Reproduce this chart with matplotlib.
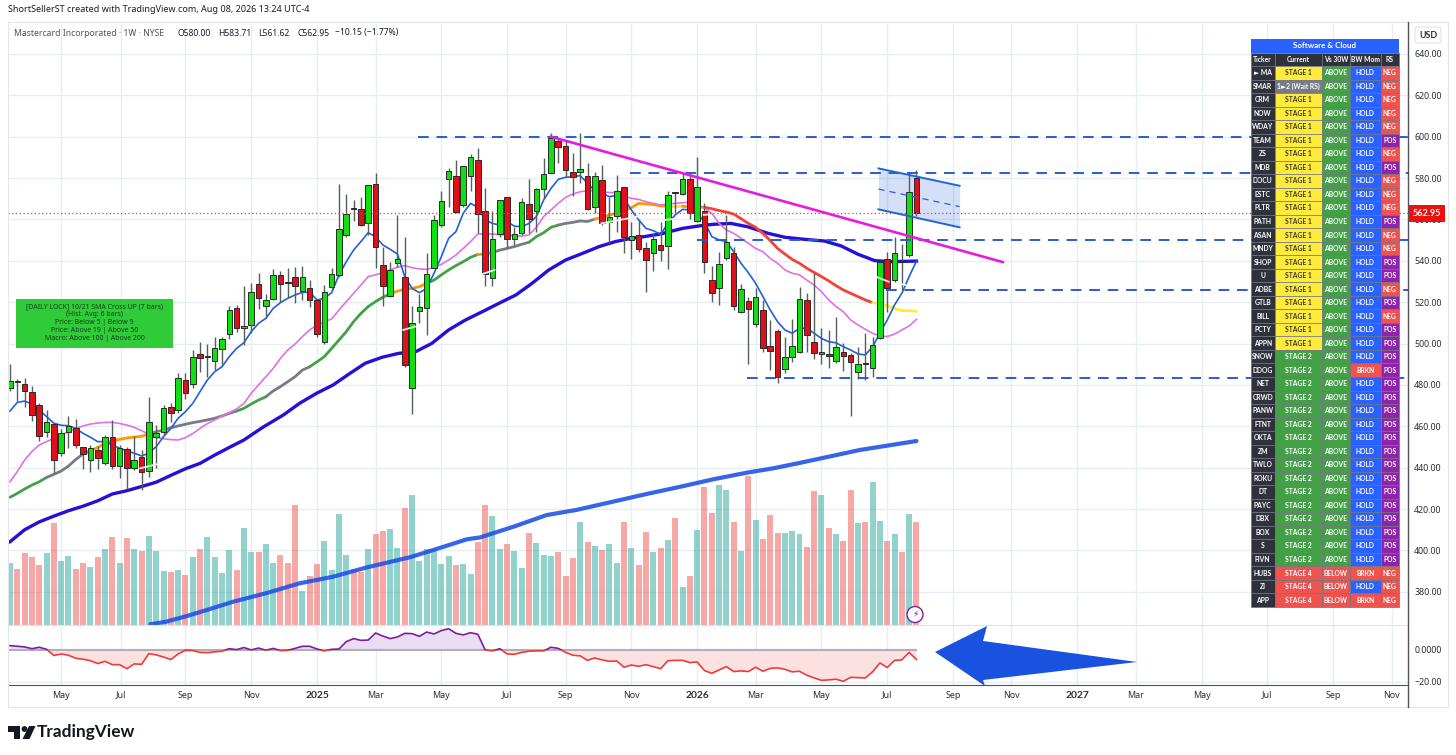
import numpy as np
import matplotlib
matplotlib.use("Agg")
import matplotlib.pyplot as plt
from matplotlib.patches import Rectangle, Polygon, Circle, FancyBboxPatch

plt.rcParams["font.family"] = ["Noto Sans", "DejaVu Sans"]
BOLD_FONT = ["Lato", "DejaVu Sans"]

# weekly candles, oldest first
opens = [478.7,481.4,480.5,476.4,470.2,457.4,461,447.1,457.1,459.3,
         449.8,443.6,448.4,442.1,454.7,440.7,448.9,439.9,445.3,438.6,
         455,457.4,469.2,467.7,482.6,480.6,495.1,493.7,491.7,497.4,
         504.5,517,507.4,509,529,518.3,521.4,533.2,529.2,532,
         525.6,527,520.9,500.9,527.5,533.3,552.5,565.2,564.9,558.5,
         577.3,538.2,523.2,539.1,532.4,478.4,515.9,517,536.4,557.5,
         579.7,581,566.8,581,588.6,563.9,531.6,552.8,570.7,550.4,
         553.3,567.3,564.3,574.9,582.3,597.9,595.7,582.8,582.8,581,
         566,579.1,559,561.8,575.7,549.9,552.3,546,543.6,547.6,
         547,573.2,572.2,579.6,559.4,563.9,530.6,526.7,541.2,543.8,
         515.1,520.4,509.3,516.2,498.7,505.9,487.9,493.7,496.1,520.9,
         500.9,495,494.8,491.4,495.8,494.3,486.4,490.5,488.2,502.5,
         540.7,530.7,539.6,543,580]
closes = [481.8,481.5,477.2,465.3,455.3,462.2,443.6,456.8,460.3,451,
          446.6,449.4,444.5,454.8,441,449.7,440,443.6,438.1,461.9,
          457,468.7,466.4,483.2,476,493.4,492.9,493.8,497.9,502,
          516.2,507.4,508.4,524.8,521.9,520.9,533.2,528.6,529.1,528,
          532.3,521.1,504.8,524.8,533.6,555.4,562.8,565.3,557.5,576.5,
          546.9,527.7,535.7,540.7,489.8,509.8,517.5,533.6,559.6,568.8,
          583.4,563.8,585.7,590.4,562.5,533.6,550.4,569.3,550.4,552.8,
          568.3,560.1,574.6,581.8,599.2,595.2,583.9,580.7,584.2,565.2,
          580.9,558.1,561,573.8,551.7,552,545.9,540.4,550.4,545.4,
          571.8,572.8,579.6,563,575.7,539.6,524.6,538.6,549,518.2,
          526.2,516.9,522.4,497.9,496.2,484,493.4,498.7,521.4,504,
          495.6,495.8,494,498.5,494.2,490.9,490,490.3,499.2,539.3,
          526.7,543.6,539.7,573.1,562.95]
highs = [490,482.7,483.4,479.5,471.1,467.9,461,458.5,465,463.6,
         450,451,450.5,455.8,463,451,450.2,455.3,448.6,474,
         460.6,470.2,471.1,485.6,485.6,497,501,500,503,503.4,
         518.3,518.7,528,529.1,534,523.8,536.1,535.1,536.7,537.2,
         537.7,530.7,521,528.3,536.4,577,572.3,569.4,570.7,576.5,
         582.3,546.9,539.6,562.2,551.7,518,524,544,562.2,573.9,
         584.7,588.7,585.7,591.7,594.7,575,564.3,569.3,570.7,556.5,
         570.2,579.6,575,589.6,602,599.2,598.4,592,602,587.1,
         583.1,586.3,571,581.5,575.9,559,559.8,549,553.3,559,
         573.9,573.3,582.3,582.3,590,568.1,537.5,544.4,562.2,546.9,
         529,522.7,527,521,511.4,506.9,503,511.7,527.5,524.3,
         534.3,507.4,506.6,513,500.1,495.5,498.5,505,503.4,539.4,
         544.4,551.7,548.1,583.1,583.71]
lows = [477.2,472.4,469.5,462.6,452.9,455,437.3,445.7,449.4,449.4,
        439.2,438,439.2,441.3,439.2,435.2,429.5,438.9,429.2,435.7,
        439.7,455.8,462,466.6,473,478.4,486.4,484,487.2,490,
        502.2,505.4,499.3,505,516.6,512.2,521,519.9,521.9,519.8,
        521.1,517.8,503.3,499.8,525.9,532.4,551.4,559.4,556.8,552.5,
        536.4,518.2,522.7,537.2,488.5,466,509.8,504.2,536.4,556.2,
        566.2,563.3,566.2,573.8,553.3,527.8,528,551.4,546,547.6,
        552.5,553.6,554.1,570.2,582.3,587.1,580.4,571.4,577.5,564.6,
        563,557.3,548.5,554.1,543.6,540.7,544.4,525.1,535.3,539.9,
        536.1,563,571.8,560.1,559,534.3,520.3,518.7,540.4,516.2,
        515,490.1,507.9,496.1,487.2,480.8,486,491.3,495.3,496.1,
        492.4,490.1,488.4,490.5,486.8,465,482.7,482.4,483.7,502.3,
        515.4,529.6,525.9,542,561.62]

# moving averages
ma_fast = [467.4,471.6,472.2,470.8,467.9,464.7,461.5,460.5,460.3,459,
           456.6,454.7,452.6,452.6,451,449.4,448.1,447,445.7,447,
           450.2,455,459,463.9,467.1,471.1,476.8,482.4,486.4,488.8,
           493.7,497.7,500.4,505.8,509.8,512.2,517,519.8,521.9,523.5,
           524.8,524.8,521.1,521.9,524.6,533.2,539.6,545.2,549.3,553.6,
           551.7,547.7,545.6,543.3,532.4,526.7,524.6,526.7,534,542,
           550.9,554.1,563,567.8,565.9,559.8,558.1,557.3,558.9,556.8,
           556.5,558.1,561.4,569.4,575,579.4,580.4,580.7,581.2,577.5,
           573.9,572.7,571,571.7,570.2,564.6,559.8,555.7,554.6,552.8,
           558.1,562.2,564.9,564.6,563,558.9,551.7,550.1,549.3,544.4,
           538.8,534.3,529.1,522.7,516.2,510.6,506.6,505,507.4,507.4,
           505,502.5,500.9,500.4,498.5,496.9,495,494.5,498.5,505,
           511.4,518.7,524.3,532.4,539.9]
ma_violet = [433.2,438.1,443.7,447.8,451,452.6,454.2,455.8,457.4,459,
             460.2,461.1,461.6,461.9,461.9,461.4,460.6,459.5,457.9,456.1,
             454.7,454,453.6,453.4,454.5,456.5,459,461.3,463.1,465,
             466.6,468.4,471.1,476,480,484,488,492.9,496.9,499.8,
             503.4,506.6,509,510.6,511.9,516.2,520.3,524.3,528.3,532.4,
             533.2,534.3,535.6,536.9,537.7,536.7,536.1,535.9,536.7,538.3,
             540.4,542.8,546,549.3,553,553,553,552.7,552.5,552,
             552,552.5,556.2,561.4,564.6,567.8,570.7,572.3,573.4,573.9,
             573.9,573.4,573,573,571.3,570.2,569.7,568.6,567.8,567,
             567.5,567.8,568.1,568.3,567.3,565.4,563,558.1,554.9,553.3,
             550.9,548.5,546,544.4,541.2,538.8,535.6,534,533.2,530.7,
             528.3,525.1,521.1,517.9,515.4,511.4,509,506.9,505,503.7,
             503.4,504.6,506.6,508.5,511.7]
ma_state = [425.7,427.6,429.7,431.6,433.2,435.3,436.8,438.4,440.8,444,
            446.6,448.2,449.8,451.8,452.9,453.7,454.4,454.8,455.2,456.3,
            457.4,458.2,459.3,460.2,461,461.8,462.4,463.1,463.9,465,
            466.3,467.4,468.7,470.8,472.7,474.3,477.1,479.2,481.6,484,
            487.2,488.8,491.2,493.7,497.7,501.7,505.8,510.6,514.6,517.9,
            520.3,522.4,524,525.4,526.2,526.7,527.5,529.1,530.7,533.2,
            535.6,537.7,539.6,541.7,543.1,543.3,544,545.2,546,546.9,
            548,549,551.7,553.6,556.2,557.3,558.1,558.6,559.3,559,
            560.2,561,562.2,563,564.3,565.7,567.8,567.5,567.2,566.5,
            566.5,566.5,566.5,565.9,565.9,565.9,565.2,564.3,563.6,562.6,
            560.4,558.1,556.2,553.3,549.8,546,543.3,540.7,538.8,536.4,
            534.4,532.4,530.3,528,525.9,524.3,522.7,521.1,519.8,519.1,
            518.2,517,515.9,515.9,515.6]
state_breaks = [0,5,11,19,31,35,41,52,57,64,66,71,75,80,90,92,95,118,124]
state_colors = ["#43a047","#787b86","#ff9800","#787b86","#43a047","#787b86","#43a047",
                "#ff9800","#43a047","#ff9800","#787b86","#43a047","#787b86","#ff9800",
                "#ffd93b","#ff9800","#f44336","#ffe93b"]

ma100_x = [0,2,4,6,8,10,12,14,16,18,20,22,24,26,28,30,32,34.7,37.4,39.6,41.9,44.2,46.5,48.6,50.9,
           53.2,55.5,57.7,60,62.3,64.6,66.9,69.2,71.4,73.7,76,78.3,80.6,82.8,85,86.2,89,92,94.5,
           96.3,98.6,100.9,103.7,106,108.7,111.4,113.7,116,118.3,120.5,124]
ma100_y = [404.2,410,413.8,416.6,419.2,421.4,424,427.3,428.9,430.9,433,436.3,439.5,442.1,446.1,449.8,
           453.4,459.8,465.5,471.1,475.9,480,485.6,490.5,493.4,495.3,496.1,500.1,506.6,511.4,515.4,
           519.5,523.5,529.1,535.6,540.4,543.6,546.9,549.3,550.9,551.4,553,555.7,557,557.7,558.1,
           556.5,553.3,551.4,550.4,549.6,547.2,543.2,540.1,539.6,539.9]
ma200_x = [19.2,21.4,24.2,26.9,30.5,35,39.6,44.2,48.8,54.7,57.9,62.5,64.3,68.9,73.4,77.5,82.5,87.1,
           91.7,96.2,100.8,104.4,108,116.3,124]
ma200_y = [364.3,365.6,368.3,371.2,375.2,379.3,384.1,387.3,391.8,396.7,400.2,405.4,406.3,411.5,417.1,
           419.6,423.6,427.3,430.8,434.4,437.6,439.7,442.3,448.6,452.9]

# short white strokes over the candles
white_marks = [([17.8,20],[439.7,441.6]), ([53.8,55.4],[506.6,508.2]), ([64.6,66.3],[533.6,535.6]),
               ([80.9,85.9],[558.1,561.4]), ([89.6,90.8],[559.8,560.2]), ([94.9,95.8],[562.2,562.5]),
               ([118.7,120.2],[532,529.9]), ([121.6,122.5],[529.1,528.3])]

# horizontal levels: price, first bar
level_prices = [600, 582.3, 550.1, 525.9, 483.4]
level_starts = [55.8, 84.8, 94, 119.8, 100.8]

trend_x = [74, 135.8]
trend_y = [600, 539.4]
chan_x = [118.8, 129.9]
chan_top = [584.7, 576.3]
chan_mid = [574.7, 566.2]
chan_bot = [564.9, 556.2]

volume = [186,169,215,205,179,215,306,193,208,168,186,175,203,229,263,187,261,228,223,267,
          223,163,160,166,151,203,227,265,205,156,225,166,292,220,218,244,187,211,187,361,
          103,148,182,251,166,332,211,168,158,229,273,282,287,232,352,389,193,229,229,184,
          208,179,182,154,249,361,328,227,244,223,172,275,247,211,208,220,146,201,310,249,
          237,225,244,186,308,232,180,280,220,230,256,320,113,148,285,415,337,420,406,308,
          223,448,315,258,330,275,275,282,273,235,401,390,292,272,253,406,306,308,430,313,
          251,273,218,332,310]
volume_up = [1,0,0,0,0,1,0,1,1,0,0,1,0,1,0,1,0,1,0,1,1,1,0,1,0,1,0,1,1,1,
             1,0,1,1,0,1,1,0,0,0,1,0,0,1,1,1,1,0,0,1,0,0,1,1,0,1,1,1,1,1,
             1,0,1,1,0,0,1,1,0,1,1,0,1,1,1,0,0,0,1,0,1,0,1,1,0,1,0,0,1,0,
             1,0,1,0,1,0,0,1,1,0,1,0,1,0,0,0,1,1,1,0,0,1,0,1,0,0,1,0,1,1,
             0,1,0,1,0]

oscillator = [2.7,2.3,1.9,.8,1.7,.4,-3.5,-2.5,-3.3,-5.2,-5.8,-6.7,-8.5,-7.1,-9.2,-9.2,-11.7,-8.7,-9,-2.3,
              -3.1,-4.4,-6,-2.5,-.2,-.4,-1.5,-1.7,-1.2,-.8,.8,.2,1.5,0,1.2,-.2,1,-.4,-.2,1,
              2.3,2.3,.6,-.6,.4,.6,5.2,7.1,6,6.2,10.6,8.7,7.1,8.1,10.4,10.2,8.5,11.2,10,12.1,
              13.3,10.4,9.4,10.8,9.8,0,-.6,.8,-2.5,-2.7,-1.5,-.8,-.6,-.6,1.7,1,-1.5,-3.3,-3.7,-6.5,
              -5,-6.2,-7.1,-6.9,-10.8,-9.4,-10.2,-9.2,-10.4,-11.7,-6.7,-6.5,-6.5,-7.9,-7.5,-12.9,-14.6,-12.5,-10.4,-13.5,
              -13.1,-13.5,-10.8,-13.3,-11.5,-11.2,-12.1,-13.7,-13.3,-15.8,-17.5,-19,-18.7,-18.3,-19.6,-17.1,-17.3,-17.5,-13.7,-8.1,
              -11,-6.5,-6.2,-1.5,-6]

tick_bars = [7,15.2,24,33,42,50,59,68,76,85,94,102,111,120,129,137,146,154,163,172,181,189]
tick_labels = ["May","Jul","Sep","Nov","2025","Mar","May","Jul","Sep","Nov","2026","Mar","May","Jul",
               "Sep","Nov","2027","Mar","May","Jul","Sep","Nov"]
price_ticks = list(range(380, 641, 20))

# scanner table
tickers = ["► MA","SMAR","CRM","NOW","WDAY","TEAM","ZS","MDB","DOCU","ESTC","PLTR","PATH","ASAN","MNDY",
           "SHOP","U","ADBE","GTLB","BILL","PCTY","APPN","SNOW","DDOG","NET","CRWD","PANW","FTNT","OKTA",
           "ZM","TWLO","ROKU","DT","PAYC","DBX","BOX","S","FIVN","HUBS","ZI","APP"]
stages = ["STAGE 1","1►2 (Wait RS)"] + ["STAGE 1"]*19 + ["STAGE 2"]*16 + ["STAGE 4"]*3
vs30 = ["ABOVE"]*37 + ["BELOW"]*3
momentum = ["HOLD"]*22 + ["BRKN"] + ["HOLD"]*14 + ["BRKN","HOLD","BRKN"]
rel_strength = ["NEG","NEG","NEG","NEG","NEG","POS","NEG","POS","NEG","NEG","NEG","POS","NEG","NEG",
                "POS","POS","NEG","POS","NEG","POS","POS"] + ["POS"]*16 + ["NEG"]*3
table_head = ["Ticker","Current","Vs 30W","BW Mom","RS"]
note_lines = ["[DAILY LOCK] 10/21 SMA Cross UP (7 bars)","(Hist. Avg: 6 bars)","Price: Below 5 | Below 9",
              "Price: Above 19 | Above 50","Macro: Above 100 | Above 200"]

W, H = 1456, 755
GRID = "#e6edf3"
TXT = "#2a2e39"
bars = np.arange(len(closes))
opens_a, closes_a = np.array(opens), np.array(closes)
highs_a, lows_a = np.array(highs), np.array(lows)
osc = np.array(oscillator)


def pane(x0, y0, x1, y1):
    return [x0 / W, 1 - y1 / H, (x1 - x0) / W, (y1 - y0) / H]


fig = plt.figure(figsize=(W / 100, H / 100), dpi=100, facecolor="white")

# volume sits behind the price pane
ax_vol = fig.add_axes(pane(8, 24, 1408, 625), zorder=1)
ax = fig.add_axes(pane(8, 24, 1408, 625), zorder=2, sharex=ax_vol)
ax.patch.set_visible(False)
ax_osc = fig.add_axes(pane(8, 625, 1408, 685), zorder=2, sharex=ax_vol)
ax_vol.set_xlim(-0.274, 191.24)
ax.set_ylim(363.96, 654.5)
ax_vol.set_ylim(0, 1803)
ax_osc.set_ylim(-21.9, 15.6)

for tb in tick_bars:
    ax_vol.axvline(tb, color=GRID, lw=1, zorder=0)
    ax_osc.axvline(tb, color=GRID, lw=1, zorder=0)
ax_vol.hlines(price_ticks, 0, 1, transform=ax.get_yaxis_transform(), color=GRID, lw=1, zorder=0)
ax_osc.axhline(-20, color=GRID, lw=1, zorder=0)

vol_colors = ["#26a69a" if up else "#ef5350" for up in volume_up]
ax_vol.bar(bars, volume, width=0.82, color=vol_colors, alpha=0.5, lw=0, zorder=1)

# price pane
ax.plot(ma200_x, ma200_y, color="#1c4fe6", lw=3, alpha=0.88, zorder=2, solid_capstyle="round")
ax.plot(ma100_x, ma100_y, color="#2410d8", lw=2.4, zorder=2)
for k, col in enumerate(state_colors):
    a, b = state_breaks[k], state_breaks[k + 1] + 1
    ax.plot(bars[a:b], ma_state[a:b], color=col, lw=2, zorder=2, solid_capstyle="round")
ax.plot(bars, ma_violet, color="#e070e6", lw=1.2, zorder=2)
ax.plot(bars, ma_fast, color="#2060d8", lw=1.2, zorder=2.5)

is_up = closes_a >= opens_a
ax.vlines(bars, lows_a, highs_a, color="#55605a", lw=1, zorder=3)
ax.bar(bars, np.abs(closes_a - opens_a).clip(0.5), bottom=np.minimum(opens_a, closes_a), width=0.76,
       color=np.where(is_up, "#10e010", "#e0101a"), edgecolor="#2a2a2a", lw=0.7, zorder=3.2)
for wx, wy in white_marks:
    ax.plot(wx, wy, color="#f4f4f4", lw=1.3, zorder=3.4)

xmax = ax_vol.get_xlim()[1]
ax.hlines(level_prices, level_starts, xmax, color="#2a5bd0", lw=1.4, linestyles=(0, (5.5, 4)), zorder=4)
ax.axhline(closes[-1], color="#f23645", lw=0.9, ls=(0, (1, 2)), zorder=4)
ax.plot(trend_x, trend_y, color="#e61ae0", lw=1.9, zorder=4)
ax.fill_between(chan_x, chan_bot, chan_top, color="#2962e0", alpha=0.2, lw=0, zorder=1.5)
ax.plot(chan_x, chan_top, color="#2464d8", lw=1.4, zorder=4)
ax.plot(chan_x, chan_bot, color="#2464d8", lw=1.4, zorder=4)
ax.plot(chan_x, chan_mid, color="#2464d8", lw=0.9, ls=(0, (5, 4)), zorder=4)

ax.yaxis.tick_right()
ax.set_yticks(price_ticks)
ax.set_yticklabels(["%.2f" % p for p in price_ticks], fontsize=6.4, color=TXT)
ax.tick_params(axis="y", length=0, pad=4.5)
ax.tick_params(axis="x", length=0, labelbottom=False)
ax_vol.tick_params(left=False, bottom=False, labelleft=False, labelbottom=False)
ax.text(1.0035, closes[-1], "%.2f" % closes[-1], transform=ax.get_yaxis_transform(), fontsize=6.6,
        fontweight="bold", family=BOLD_FONT, color="white", va="center", ha="left", clip_on=False, zorder=9,
        bbox=dict(boxstyle="square,pad=0.4", facecolor="#f00f0f", edgecolor="none"))

# oscillator pane
ax_osc.fill_between(bars, osc, 0, where=osc >= 0, interpolate=True, color="#eadcf2", lw=0, zorder=1)
ax_osc.fill_between(bars, osc, 0, where=osc <= 0, interpolate=True, color="#fde0e0", lw=0, zorder=1)
ax_osc.plot(bars, np.zeros(len(bars)), color="#b5adb5", lw=1.5, zorder=2)
line_up, = ax_osc.plot(bars, osc, color="#7b1fa2", lw=1.2, zorder=3)
line_dn, = ax_osc.plot(bars, osc, color="#ee3b3b", lw=1.2, zorder=3)
line_up.set_clip_path(Rectangle((-5, 0), 200, 40, transform=ax_osc.transData))
line_dn.set_clip_path(Rectangle((-5, -40), 200, 40, transform=ax_osc.transData))

ax_osc.yaxis.tick_right()
ax_osc.set_yticks([0, -20])
ax_osc.set_yticklabels(["0.0000", "−20.00"], fontsize=6.4, color=TXT)
ax_osc.tick_params(axis="y", length=0, pad=4.5)
ax_osc.set_xticks(tick_bars)
ax_osc.set_xticklabels(tick_labels, fontsize=6.4, color=TXT)
ax_osc.tick_params(axis="x", length=0, pad=4)
for lab in ax_osc.get_xticklabels():
    if lab.get_text().isdigit():
        lab.set_fontweight("bold")
        lab.set_family(BOLD_FONT)
        lab.set_fontsize(7.4)

for a in (ax, ax_vol):
    for s in a.spines.values():
        s.set_visible(False)
for s in ("left", "top"):
    ax_osc.spines[s].set_visible(False)
ax_osc.spines["bottom"].set_color("#50535e")
ax_osc.spines["right"].set_visible(False)

# everything that is laid out in picture pixels goes on one overlay
ov = fig.add_axes([0, 0, 1, 1], zorder=5)
ov.set_xlim(0, W)
ov.set_ylim(H, 0)
ov.axis("off")
ov.patch.set_visible(False)

ov.plot([8, 1447], [22, 22], color="#e3e6ec", lw=0.8)
ov.plot([7.5, 7.5], [22, 707], color="#e3e6ec", lw=0.8)
ov.plot([1447.5, 1447.5], [22, 707], color="#e3e6ec", lw=0.8)
ov.plot([8, 1447], [707, 707], color="#e3e6ec", lw=0.8)
ov.plot([8, 1408], [625, 625], color="#e0e3eb", lw=0.8)
ov.plot([1408, 1408], [22, 707], color="#50535e", lw=1)

ov.text(8, 10, "ShortSellerST created with TradingView.com, Aug 08, 2026 13:24 UTC-4", fontsize=6.5,
        color="#1a1d26", va="center")
ov.text(14, 33, "Mastercard Incorporated · 1W · NYSE", fontsize=6.2, color="#50535e", va="center")
for hx, part in zip([178, 218, 258, 298, 335],
                    ["O580.00", "H583.71", "L561.62", "C562.95", "−10.15 (−1.77%)"]):
    ov.text(hx, 33, part, fontsize=6.2, color="#1a1d26", va="center")

# usd button
ov.add_patch(FancyBboxPatch((1415, 27), 26, 16, boxstyle="round,pad=0,rounding_size=2", fc="white",
                            ec="#e0e3eb", lw=0.8))
ov.text(1428, 35, "USD", fontsize=6.4, fontweight="bold", family=BOLD_FONT, color=TXT, ha="center", va="center")

# note box
ov.add_patch(Rectangle((16, 299), 157, 49, fc="#2fcb38", ec="none"))
for n, line in enumerate(note_lines):
    ov.text(94.5, 307 + n * 8, line, fontsize=5, color="#15401a", ha="center", va="center")

# table
col_x = [1250.7, 1274.7, 1322.3, 1349.7, 1380.7, 1398.7]
row_h = 13.52
top = 39
EDGE = "#70747e"
FILL = {"STAGE 1": "#ffeb3b", "STAGE 2": "#43a047", "STAGE 4": "#ef5350", "1►2 (Wait RS)": "#787b86",
        "ABOVE": "#43a047", "BELOW": "#ef5350", "HOLD": "#2962ff", "BRKN": "#ef5350",
        "NEG": "#ef5350", "POS": "#8e24aa"}
ov.add_patch(Rectangle((col_x[0], top), col_x[-1] - col_x[0], row_h, fc="#2962ff", ec="none"))
ov.text((col_x[0] + col_x[-1]) / 2, top + row_h / 2, "Software & Cloud", fontsize=5.8, fontweight="bold",
        family=BOLD_FONT, color="white", ha="center", va="center")


def cell(col, row, label, fill, color="white"):
    y = top + row_h * row
    ov.add_patch(Rectangle((col_x[col], y), col_x[col + 1] - col_x[col], row_h, fc=fill, ec=EDGE, lw=0.5))
    ov.text((col_x[col] + col_x[col + 1]) / 2, y + row_h / 2, label, fontsize=4.9, fontweight="bold",
            family=BOLD_FONT, color=color, ha="center", va="center")


for c, head in enumerate(table_head):
    cell(c, 1, head, "#2f323d")
for r in range(len(tickers)):
    row = r + 2
    cell(0, row, tickers[r], "#2f323d")
    cell(1, row, stages[r], FILL[stages[r]], "#3a3a20" if stages[r] == "STAGE 1" else "white")
    cell(2, row, vs30[r], FILL[vs30[r]])
    cell(3, row, momentum[r], FILL[momentum[r]])
    cell(4, row, rel_strength[r], FILL[rel_strength[r]])

# hand drawn arrow
arrow = Polygon([(935, 652), (987, 626), (983, 641), (1137, 662), (983, 680), (985, 686)],
                closed=True, fc="#1a52e0", ec="none")
ov.add_patch(arrow)

# alert badge on the last volume bar
ov.add_patch(Circle((915, 614.5), 8, fc="white", ec="#7b1fa2", lw=1))
ov.text(915, 614.5, "⚡", fontsize=6.5, color="#7b1fa2", ha="center", va="center", family="DejaVu Sans")

# footer logo
ov.add_patch(Polygon([(8, 726), (20, 726), (20, 739), (14, 739), (14, 732), (8, 732)], fc="#131722", ec="none"))
ov.add_patch(Circle((24.5, 729), 2.9, fc="#131722", ec="none"))
ov.add_patch(Polygon([(29, 726), (35.5, 726), (29.5, 739), (22.5, 739)], fc="#131722", ec="none"))
ov.text(37, 732, "TradingView", fontsize=12.4, fontweight="bold", family=BOLD_FONT, color="#131722", va="center")

fig.savefig("out.png", dpi=100, facecolor="white")
